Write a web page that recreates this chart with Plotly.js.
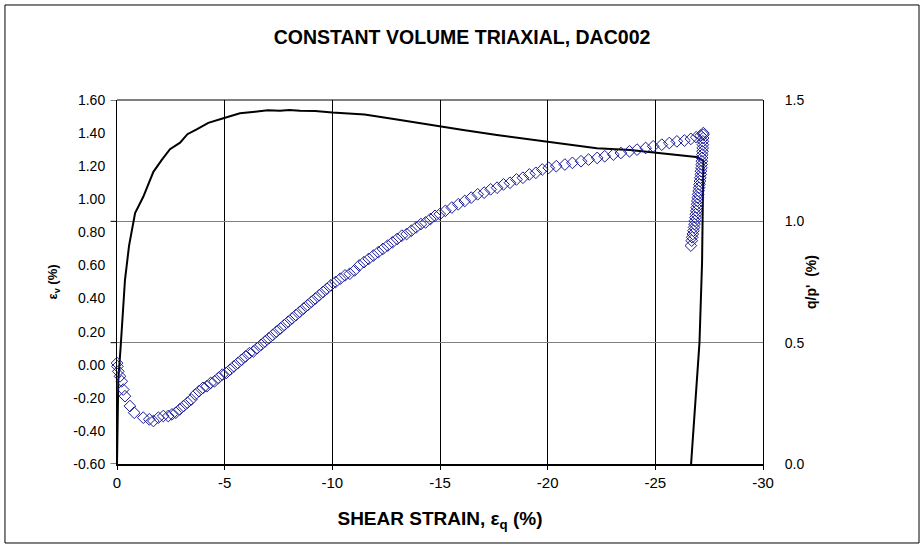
<!DOCTYPE html>
<html>
<head>
<meta charset="utf-8">
<script src="https://cdn.plot.ly/plotly-3.0.1.min.js"></script>
<style>
  html, body { margin: 0; padding: 0; background: #fff; }
  #chart { width: 924px; height: 548px; }
</style>
</head>
<body>
<div id="chart"></div>
<script>
// Volumetric strain εv (%) vs shear strain εq (%) — blue open diamonds, left axis
const evStrain = [
  0, -0.02, -0.06, -0.14, -0.22, -0.29, -0.37, -0.60, -0.80, -1.22, -1.50, -1.69, -1.92, -2.15, -2.38,
  -2.55, -2.73, -2.91, -3.09, -3.27, -3.45, -3.63, -3.81, -3.99, -4.17, -4.35, -4.53, -4.71, -4.89,
  -5.07, -5.25, -5.43, -5.61, -5.79, -5.97, -6.15, -6.33, -6.51, -6.69, -6.87, -7.05, -7.23, -7.41,
  -7.59, -7.77, -7.95, -8.13, -8.31, -8.49, -8.67, -8.85, -9.03, -9.21, -9.39, -9.57, -9.75, -9.93,
  -10.15, -10.37, -10.59, -10.81, -11.03, -11.25, -11.47, -11.69, -11.91, -12.13, -12.35, -12.57,
  -12.79, -13.01, -13.23, -13.45, -13.67, -13.89, -14.11, -14.33, -14.55, -14.77, -14.99,
  -15.25, -15.55, -15.85, -16.15, -16.45, -16.75, -17.05, -17.35, -17.65, -17.95, -18.25, -18.55,
  -18.85, -19.15, -19.45, -19.75, -20.05,
  -20.4, -20.8, -21.15, -21.55, -21.9, -22.3, -22.65, -23.05, -23.4, -23.8, -24.15, -24.55, -24.9,
  -25.3, -25.65, -26.0, -26.35, -26.65, -26.9, -27.1, -27.23,
  -27.23, -27.22, -27.21, -27.21, -27.20, -27.19, -27.18, -27.17, -27.16, -27.15, -27.14, -27.12,
  -27.11, -27.09, -27.07, -27.05, -27.03, -27.01, -26.99, -26.97, -26.95, -26.94, -26.92, -26.90,
  -26.88, -26.86, -26.84, -26.82, -26.80, -26.77, -26.74, -26.71, -26.69, -26.65
];
const evValues = [
  0.01, -0.01, -0.04, -0.07, -0.10, -0.15, -0.19, -0.25, -0.29, -0.32, -0.33, -0.34, -0.32, -0.31, -0.31,
  -0.30, -0.29, -0.27, -0.25, -0.23, -0.21, -0.18, -0.16, -0.14, -0.13, -0.11, -0.10, -0.08, -0.06,
  -0.05, -0.03, -0.01, 0.01, 0.03, 0.05, 0.07, 0.08, 0.10, 0.12, 0.14, 0.16, 0.18, 0.20,
  0.22, 0.24, 0.26, 0.28, 0.30, 0.32, 0.34, 0.36, 0.38, 0.40, 0.42, 0.44, 0.46, 0.48,
  0.50, 0.52, 0.54, 0.55, 0.57, 0.60, 0.62, 0.64, 0.66, 0.68, 0.70, 0.72,
  0.74, 0.76, 0.78, 0.79, 0.81, 0.83, 0.85, 0.86, 0.88, 0.90, 0.91,
  0.93, 0.95, 0.97, 0.99, 1.01, 1.03, 1.04, 1.06, 1.07, 1.09, 1.10, 1.12,
  1.13, 1.15, 1.16, 1.18, 1.19,
  1.20, 1.21, 1.22, 1.23, 1.24, 1.25, 1.26, 1.27, 1.28, 1.29, 1.30, 1.31, 1.32,
  1.33, 1.34, 1.35, 1.355, 1.365, 1.375, 1.385, 1.40,
  1.39, 1.37, 1.35, 1.33, 1.31, 1.29, 1.27, 1.25, 1.23, 1.21, 1.19, 1.17,
  1.15, 1.13, 1.11, 1.09, 1.07, 1.05, 1.03, 1.01, 0.99, 0.97, 0.95, 0.93,
  0.91, 0.89, 0.87, 0.85, 0.83, 0.81, 0.79, 0.77, 0.75, 0.72
];

// Stress ratio q/p' vs shear strain — black line, right axis
const qpStrain = [
  0, -0.02, -0.06, -0.17, -0.22, -0.37, -0.56, -0.76, -0.84, -1.22, -1.69, -2.08, -2.46, -2.93,
  -3.27, -3.70, -4.24, -4.94, -5.71, -6.41, -7.0, -7.57, -8.0, -8.5, -9.2, -10.0, -11.5, -13.0,
  -14.54, -16.08, -17.64, -19.88, -22.28, -23.83, -25.37, -26.6, -26.9,
  -27.23, -27.22, -27.17, -27.05, -26.85, -26.66
];
const qpValues = [
  0, 0.14, 0.346, 0.483, 0.552, 0.758, 0.90, 1.005, 1.034, 1.101, 1.204, 1.253, 1.297, 1.324,
  1.359, 1.379, 1.406, 1.425, 1.445, 1.452, 1.458, 1.456, 1.459, 1.456, 1.455, 1.448, 1.44, 1.42,
  1.397, 1.376, 1.356, 1.328, 1.301, 1.294, 1.280, 1.269, 1.265,
  1.25, 1.09, 0.83, 0.50, 0.26, 0.0
];

const xTickVals = [0, -5, -10, -15, -20, -25, -30];
const xTickText = ["0", "-5", "-10", "-15", "-20", "-25", "-30"];
const yTickVals = [1.6, 1.4, 1.2, 1.0, 0.8, 0.6, 0.4, 0.2, 0.0, -0.2, -0.4, -0.6];
const yTickText = ["1.60", "1.40", "1.20", "1.00", "0.80", "0.60", "0.40", "0.20", "0.00", "-0.20", "-0.40", "-0.60"];
const y2TickVals = [0, 0.5, 1.0, 1.5];
const y2TickText = ["0.0", "0.5", "1.0", "1.5"];

const FONT = '"Liberation Sans", Arial, sans-serif';

const traces = [
  {
    x: qpStrain, y: qpValues, yaxis: 'y2', type: 'scatter', mode: 'lines',
    line: { color: '#000000', width: 2 }, hoverinfo: 'skip', showlegend: false
  },
  {
    x: evStrain, y: evValues, yaxis: 'y', type: 'scatter', mode: 'markers',
    marker: { symbol: 'diamond-open', size: 9, color: '#1a1a99', line: { width: 1, color: '#1a1a99' } },
    cliponaxis: false, hoverinfo: 'skip', showlegend: false
  }
];

const leftTicks = y2TickVals.map(v => ({
  type: 'line', xref: 'paper', yref: 'y2', x0: -0.01, x1: 0, y0: v, y1: v,
  line: { color: '#000', width: 1 }
}));

const layout = {
  width: 924, height: 548,
  margin: { l: 117, r: 161, t: 100, b: 84 },
  paper_bgcolor: '#ffffff', plot_bgcolor: '#ffffff',
  font: { family: FONT, color: '#000', size: 13 },
  title: {
    text: '<b>CONSTANT VOLUME TRIAXIAL, DAC002</b>',
    font: { family: FONT, size: 19.5, color: '#000' },
    x: 0.5, xref: 'container', xanchor: 'center', y: 1 - 37 / 548, yref: 'container', yanchor: 'middle'
  },
  xaxis: {
    range: [0, -30], tickvals: xTickVals, ticktext: xTickText,
    showgrid: true, gridcolor: '#000000', gridwidth: 1, zeroline: false,
    showline: true, linecolor: '#000', linewidth: 2,
    ticks: 'outside', ticklen: 4, tickcolor: '#000',
    tickfont: { family: FONT, size: 15 },
    title: { text: '<b>SHEAR STRAIN, ε<sub>q</sub> (%)</b>', font: { family: FONT, size: 19 }, standoff: 22 }
  },
  yaxis2: {
    range: [0, 1.5], side: 'right', tickvals: y2TickVals, ticktext: y2TickText,
    showgrid: true, gridcolor: '#808080', gridwidth: 1, zeroline: false,
    showline: true, linecolor: '#000', linewidth: 1, ticks: '', ticklabelstandoff: 18,
    tickfont: { family: FONT, size: 14 },
    title: { text: "<b>q/p'&nbsp;&nbsp;(%)</b>", font: { family: FONT, size: 14 }, standoff: 2 }
  },
  yaxis: {
    range: [-0.6, 1.6], overlaying: 'y2', side: 'left', tickvals: yTickVals, ticktext: yTickText,
    showgrid: false, zeroline: false,
    showline: true, linecolor: '#000', linewidth: 1, ticks: '', ticklabelstandoff: 8,
    tickfont: { family: FONT, size: 14 },
    title: { text: '<b>ε<sub>v</sub> (%)</b>', font: { family: FONT, size: 13 }, standoff: 12 }
  },
  shapes: [
    { type: 'line', xref: 'paper', yref: 'paper', x0: 0, x1: 1, y0: 1, y1: 1, line: { color: '#000', width: 1 } },
    { type: 'rect', xref: 'paper', yref: 'paper', x0: -0.1734, x1: 1.2415, y0: -0.2170, y1: 1.2610,
      line: { color: '#000', width: 1 }, fillcolor: 'rgba(0,0,0,0)', layer: 'below' }
  ].concat(leftTicks),
  showlegend: false,
  hovermode: false
};

Plotly.newPlot('chart', traces, layout, { displayModeBar: false, staticPlot: true });
</script>
</body>
</html>
